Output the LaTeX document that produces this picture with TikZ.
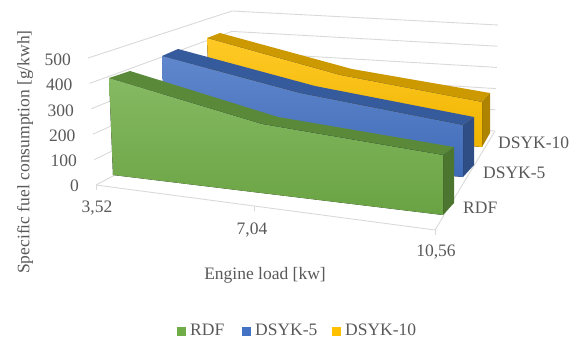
\documentclass[tikz,border=0pt]{standalone}
\usepackage{fontspec}
\setmainfont{Liberation Serif}
\definecolor{texte}{HTML}{595959}
\definecolor{gris}{HTML}{D9D9D9}
\definecolor{vert}{HTML}{70AD47}
\definecolor{bleu}{HTML}{4472C4}
\definecolor{jaune}{HTML}{FFC000}
\tikzset{
  grille/.style={draw=gris, line width=0.9pt},
  etiq/.style={text=texte, inner sep=1pt},
  dessus/.style={fill=#1!80!black},
  bout/.style={fill=#1!68!black},
  devant/.style={top color=#1!85!white, bottom color=#1!94!black},
}
\begin{document}
\begin{tikzpicture}[x=1pt, y=-1pt, font=\fontsize{17.5}{20}\selectfont]

            \useasboundingbox (0,0) rectangle (578,338);
            \clip (0,0) rectangle (578,338);

            % Lignes de la grille (paroi gauche puis paroi du fond)
            \foreach \v in {0,...,5} {
                \draw[grille] (96-1.6*\v, 185-25.4*\v) -- (232, 113-20.4*\v) -- (495+0.6*\v, 131-21.2*\v);
            }

            % Axes du sol et graduations
            \coordinate (o) at (96,185);
            \coordinate (d) at (435,230);
            \coordinate (f) at (495,131);
            \draw[grille] (o) -- (d) -- (f);
            \foreach \x/\y in {96/185, 254/206, 435/230} {
                \draw[grille] (\x,\y) -- (\x,\y+5);
            }

            % Série DSYK-10
            \fill[dessus=jaune] (207,38) -- (340,75) -- (482,102) -- (490,93) -- (352,69) -- (220,33) -- cycle;
            \fill[bout=jaune] (482,102) -- (490,93) -- (490,133) -- (482,147) -- cycle;
            \fill[devant=jaune] (210,125) -- (207,38) -- (340,75) -- (482,102) -- (482,147) -- cycle;

            % Série DSYK-5
            \fill[dessus=bleu] (162,56) -- (300,93) -- (463,125) -- (474,117) -- (315,86) -- (178,49) -- cycle;
            \fill[bout=bleu] (463,125) -- (474,117) -- (474,165) -- (463,177) -- cycle;
            \fill[devant=bleu] (165,148) -- (162,56) -- (300,93) -- (463,125) -- (463,177) -- cycle;

            % Série RDF
            \fill[dessus=vert] (109,78) -- (262,124) -- (443,155) -- (454,147) -- (278,117) -- (130,71) -- cycle;
            \fill[bout=vert] (443,155) -- (454,147) -- (454,203) -- (443,215) -- cycle;
            \fill[devant=vert] (113,175) -- (109,78) -- (262,124) -- (443,155) -- (443,215) -- cycle;

            % Étiquettes de l'axe vertical
            \foreach \v/\xe in {0/80, 1/78, 2/76.5, 3/75, 4/73.5, 5/72} {
                \pgfmathtruncatemacro{\val}{100*\v}
                \node[etiq, anchor=east] (y\v) at (\xe, 186-25.2*\v) {\val};
            }
            \node[etiq, rotate=90] (titrey) at (25,152) {Specific fuel consumption [g/kwh]};

            % Étiquettes de l'axe horizontal
            \node[etiq] (x1) at (97,208) {3,52};
            \node[etiq] (x2) at (252,230) {7,04};
            \node[etiq] (x3) at (436,252) {10,56};
            \node[etiq] (titrex) at (265,275) {Engine load [kw]};

            % Étiquettes des séries
            \node[etiq, anchor=west] (s1) at (462,208) {RDF};
            \node[etiq, anchor=west] (s2) at (482,173) {DSYK-5};
            \node[etiq, anchor=west] (s3) at (497,143) {DSYK-10};

            % Légende
            \foreach \c/\xc/\nom in {vert/177/RDF, bleu/242/DSYK-5, jaune/332/DSYK-10} {
                \fill[\c] (\xc,327) rectangle (\xc+9,336);
                \node[etiq, anchor=base west] (l\nom) at (\xc+12,335.5) {\nom};
            }

            \end{tikzpicture}
\end{document}
